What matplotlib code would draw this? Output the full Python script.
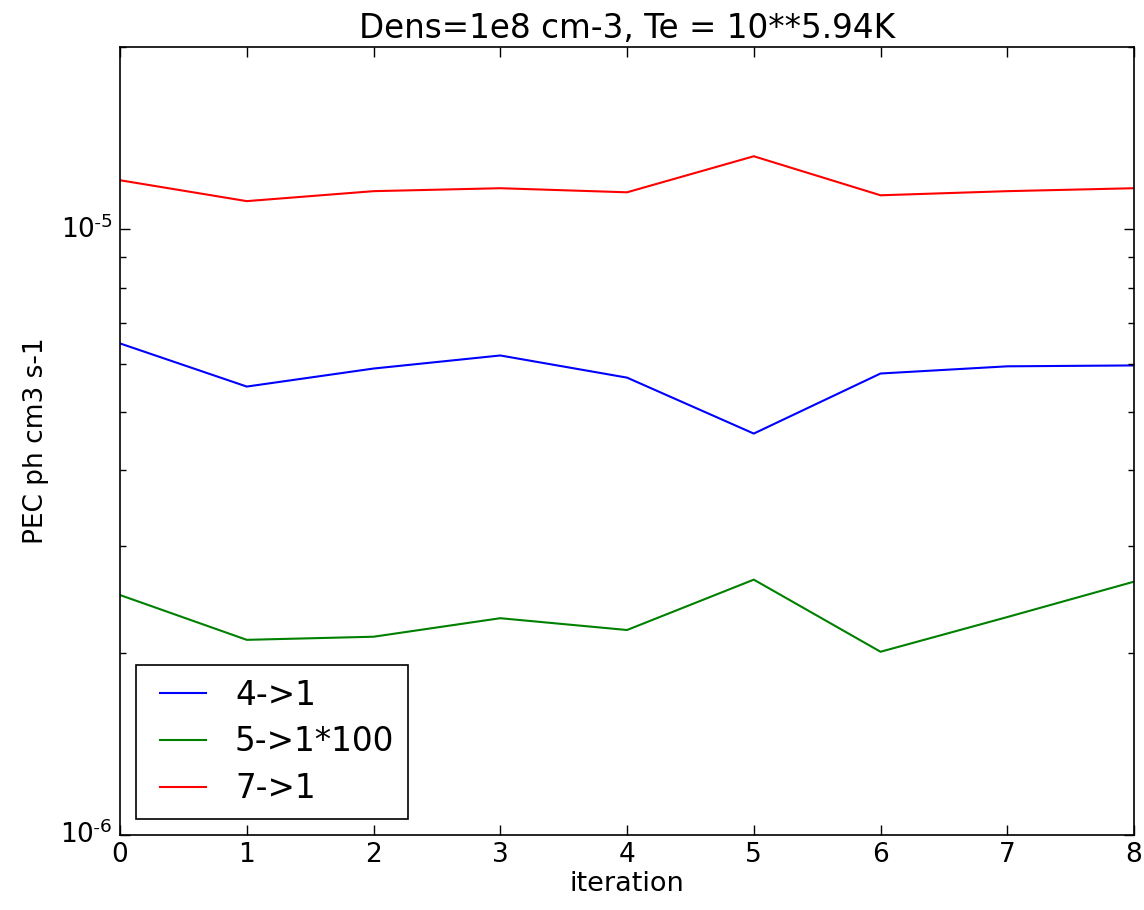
import matplotlib
matplotlib.use("Agg")
import matplotlib.pyplot as plt
from matplotlib.ticker import FuncFormatter
import numpy as np

plt.style.use('classic')
plt.rcParams['font.family'] = ['DejaVu Sans']

### DATA ###

iteration = [0, 1, 2, 3, 4, 5, 6, 7, 8]

# PEC values
pec_4_1 = [6.48e-6, 5.50e-6, 5.89e-6, 6.19e-6, 5.69e-6, 4.60e-6, 5.78e-6, 5.94e-6, 5.96e-6]
pec_5_1x100 = [2.49e-6, 2.10e-6, 2.125e-6, 2.28e-6, 2.18e-6, 2.64e-6, 2.007e-6, 2.29e-6, 2.62e-6]
pec_7_1 = [1.205e-5, 1.113e-5, 1.156e-5, 1.169e-5, 1.151e-5, 1.320e-5, 1.138e-5, 1.156e-5, 1.169e-5]

labels = ["4->1", "5->1*100", "7->1"]

### PLOT ###

fig = plt.figure(figsize=(11.44, 9.10), dpi=100, facecolor='white')
ax = fig.add_axes([0.1049, 0.0824, 0.8864, 0.8660])

ax.plot(iteration, pec_4_1, color='b', lw=1.5, label=labels[0])
ax.plot(iteration, pec_5_1x100, color='g', lw=1.5, label=labels[1])
ax.plot(iteration, pec_7_1, color='r', lw=1.5, label=labels[2])

ax.set_yscale('log')
ax.set_ylim(1e-6, 2e-5)
ax.set_xlim(0, 8)

# old style labels: 10^-5 with a plain hyphen
def log_fmt(v, pos):
    e = int(round(np.log10(v)))
    if e < 0:
        return r'$\mathdefault{10^{\text{-}%d}}$' % (-e)
    return r'$\mathdefault{10^{%d}}$' % e

ax.yaxis.set_major_formatter(FuncFormatter(log_fmt))

ax.tick_params(which='major', length=7, width=1, labelsize=19, pad=5)
ax.tick_params(which='minor', length=4, width=1)

ax.set_xlabel("iteration", fontsize=19.5, labelpad=2)
ax.set_ylabel("PEC ph cm3 s-1", fontsize=19, labelpad=8)
ax.set_title("Dens=1e8 cm-3, Te = 10**5.94K", fontsize=23.5, y=1.003)

leg = ax.legend(loc='lower left', fontsize=23.5, handlelength=2.0,
                borderpad=0.42, labelspacing=0.42, handletextpad=0.6,
                borderaxespad=0.5)
leg.get_frame().set_linewidth(1.2)

for s in ax.spines.values():
    s.set_linewidth(1.2)

fig.savefig("out.png", dpi=100, facecolor='white')
